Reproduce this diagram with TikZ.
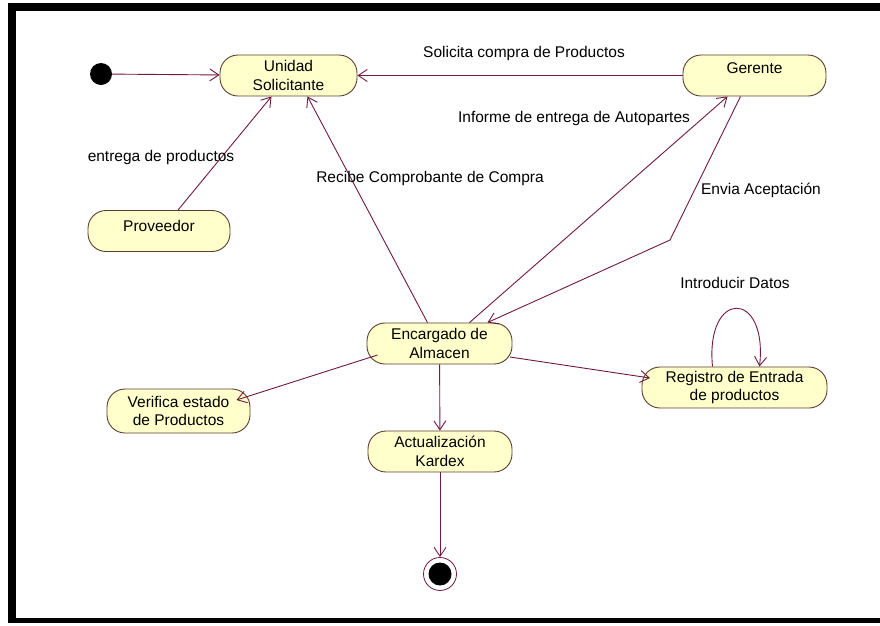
\documentclass[tikz,border=0pt]{standalone}
\usepackage{fontspec}
\setmainfont{Liberation Sans}
\usetikzlibrary{arrows.meta,calc}

\definecolor{flow}{RGB}{115,25,65}
\definecolor{stateline}{RGB}{95,60,50}
\definecolor{statefill}{RGB}{255,255,204}

\tikzset{
  state/.style={draw=stateline, fill=statefill, line width=0.9pt,
    rounded corners=18pt, minimum height=41pt, inner sep=0pt,
    align=center, font=\fontsize{15.5}{18.5}\selectfont},
  flowline/.style={draw=flow, line width=0.9pt,
    -{Straight Barb[length=9pt,width=12pt,line width=0.9pt]}},
  lbl/.style={font=\fontsize{15.5}{18.5}\selectfont, inner sep=0pt}
}

\begin{document}
\begin{tikzpicture}[x=1pt,y=-1pt]
  \useasboundingbox (0,0) rectangle (880,625);
  \fill[white] (0,0) rectangle (880,625);

  % frame
  \fill[black] (8,3) rectangle (880,11);
  \fill[black] (8,3) rectangle (16,623);
  \fill[black] (8,618) rectangle (880,623);

  % states
  \node[state, minimum width=137pt] (unid) at (288.5,75.5) {Unidad\\Solicitante};
  \node[state, minimum width=143pt] (ger)  at (754.5,75.5) {Gerente\\[-9pt]\strut};
  \node[state, minimum width=142pt] (prov) at (159,231)   {Proveedor\\[-14pt]\strut};
  \node[state, minimum width=145pt] (enc)  at (439.5,343.5) {Encargado de\\Almacen};
  \node[state, minimum width=143pt, minimum height=44pt] (verif) at (178.5,411) {Verifica estado\\de Productos};
  \node[state, minimum width=144pt] (act)  at (440,451.5) {Actualización\\Kardex};
  \node[state, minimum width=185pt] (reg)  at (734.5,387.5) {Registro de Entrada\\de productos};

  % initial and final pseudo-states
  \node[circle, fill=black, minimum size=22pt, inner sep=0pt] (init) at (101,74) {};
  \node[circle, draw=flow, line width=0.8pt, fill=white, minimum size=33pt, inner sep=0pt] (fin) at (440,574) {};
  \node[circle, fill=black, minimum size=23pt, inner sep=0pt] (finin) at (fin) {};

  % transitions
  \draw[flowline] (init) -- (unid);
  \draw[flowline] (ger) -- (unid);
  \draw[flowline] ($(prov.north)+(19,0)$) -- ($(unid.south)+(-17,0)$);
  \draw[flowline] ($(enc.north)+(-12,0)$) -- ($(unid.south)+(19,0)$);
  \draw[flowline] ($(enc.north)+(30,0)$) -- ($(ger.south)+(-27,0)$);
  \coordinate (bend) at (670,240);
  \draw[flowline] ($(ger.south)+(-14,0)$) -- (bend) -- ($(enc.north)+(48,0)$);
  \draw[flowline] ($(enc.center)+(-62,11.5)$) -- ($(verif.center)+(58,-11)$);
  \draw[flowline] (enc) -- (act);
  \draw[flowline] ($(enc.center)+(70.5,13.5)$) -- ($(reg.center)+(-84.5,-9.5)$);
  \draw[flowline] ($(reg.north)+(-22,0)$) .. controls (705,289) and (768,289) .. ($(reg.north)+(25,0)$);
  \draw[flowline] (act) -- (fin);

  % transition labels
  \node[lbl] (l1) at (524,53)  {Solicita compra de Productos};
  \node[lbl] (l2) at (161,157) {entrega de productos};
  \node[lbl] (l3) at (430,178) {Recibe Comprobante de Compra};
  \node[lbl] (l4) at (574,118) {Informe de entrega de Autopartes};
  \node[lbl] (l5) at (761,190) {Envia Aceptación};
  \node[lbl] (l6) at (735,283) {Introducir Datos};
\end{tikzpicture}
\end{document}
